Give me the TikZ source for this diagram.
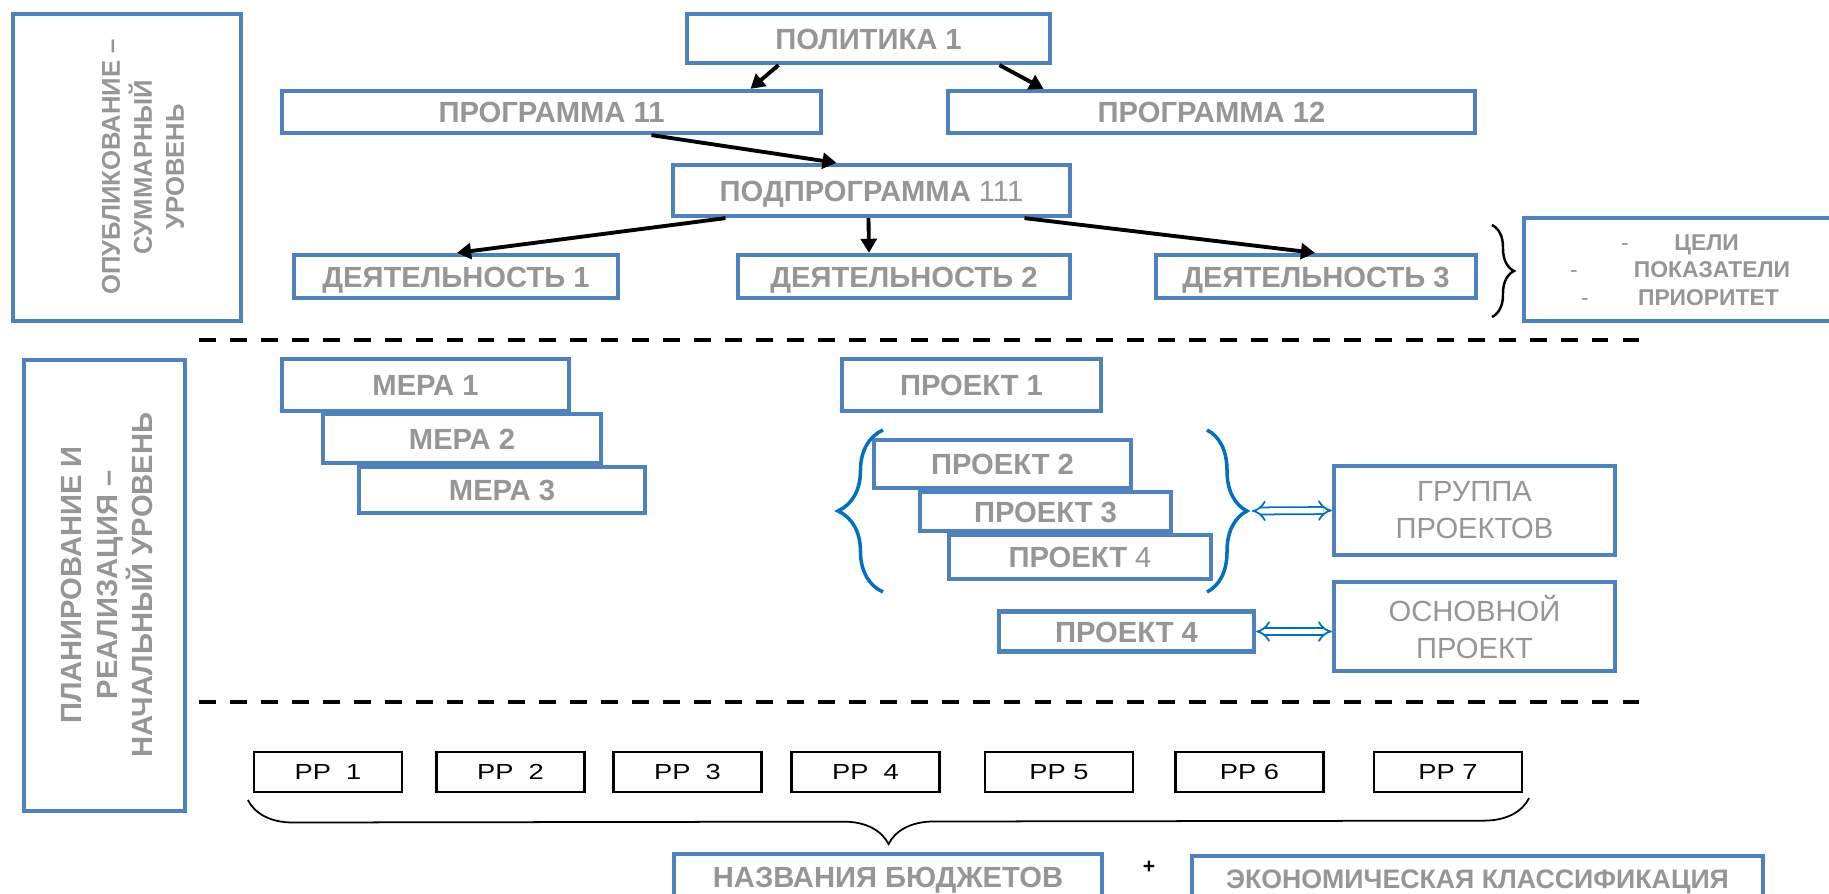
\documentclass[tikz,border=0pt]{standalone}
\usepackage{fontspec}
\setmainfont{Liberation Sans}
\newfontfamily\ppfont[FakeStretch=1.25]{Liberation Sans}
\usetikzlibrary{arrows.meta,calc,decorations.pathreplacing}
\definecolor{boxblue}{RGB}{79,129,189}
\definecolor{txtgray}{RGB}{150,150,150}
\definecolor{brblue}{RGB}{0,112,192}

\begin{document}
\begin{tikzpicture}[x=0.01cm,y=-0.01cm,
  frame/.style={draw=boxblue,line width=1.2pt,fill=white,inner sep=0pt,text=txtgray},
  box/.style={frame,text height=6pt,text depth=0pt,font=\fontsize{8.3}{10}\selectfont\bfseries},
  side/.style={text=txtgray,align=center,rotate=90},
  rrbox/.style={draw=black,line width=0.6pt,inner sep=0pt,minimum width=1.48cm,minimum height=0.4cm,
    font=\ppfont\fontsize{6.2}{7}\selectfont},
  tree/.style={line width=1.1pt,-{Triangle[length=4pt,width=4.5pt]}},
  sep/.style={line width=0.9pt,dash pattern=on 4.8pt off 4pt},
  dbl/.style={draw=brblue,double=white,double distance=1.5pt,line width=0.5pt,{Implies}-{Implies}},
  br/.style={decorate,line width=0.5pt}]

\useasboundingbox (0,0) rectangle (1829,894);

% level boxes on the left
\node[draw=boxblue,line width=1.2pt,minimum width=2.28cm,minimum height=3.07cm] (pub) at (127,167.5) {};
\node[side,font=\fontsize{7.3}{9.1}\selectfont\bfseries] (pubtxt) at (143,167) {ОПУБЛИКОВАНИЕ –\\СУММАРНЫЙ\\УРОВЕНЬ};
\node[draw=boxblue,line width=1.2pt,minimum width=1.61cm,minimum height=4.51cm] (plan) at (104.5,585.5) {};
\node[side,font=\fontsize{8.3}{10.2}\selectfont\bfseries] (plantxt) at (107,585) {ПЛАНИРОВАНИЕ И\\РЕАЛИЗАЦИЯ –\\НАЧАЛЬНЫЙ УРОВЕНЬ};

% policy tree
\node[box,minimum width=3.63cm,minimum height=0.49cm] (pol) at (868.5,38.5) {ПОЛИТИКА 1};
\node[box,minimum width=5.39cm,minimum height=0.42cm] (p11) at (551.5,112) {ПРОГРАММА 11};
\node[box,minimum width=5.27cm,minimum height=0.42cm] (p12) at (1211.5,112) {ПРОГРАММА 12};
\node[box,minimum width=3.97cm,minimum height=0.51cm] (sub) at (871.5,190.5) {ПОДПРОГРАММА \textmd{111}};
\node[box,minimum width=3.24cm,minimum height=0.43cm] (d1) at (456,276.5) {ДЕЯТЕЛЬНОСТЬ 1};
\node[box,minimum width=3.32cm,minimum height=0.43cm] (d2) at (904,276.5) {ДЕЯТЕЛЬНОСТЬ 2};
\node[box,minimum width=3.20cm,minimum height=0.43cm] (d3) at (1316,276.5) {ДЕЯТЕЛЬНОСТЬ 3};

% arrows
\draw[tree] ($(pol.south)+(-90,0)$) -- ($(p11.north)+(199,0)$);
\draw[tree] ($(pol.south)+(131,0)$) -- ($(p12.north)+(-168,0)$);
\draw[tree] ($(p11.south)+(100,0)$) -- ($(sub.north)+(-35,0)$);
\draw[tree] ($(sub.south)+(-146,0)$) -- ($(d1.north)+(1,0)$);
\draw[tree] ($(sub.south)+(-3,0)$) -- ($(d2.north)+(-35,0)$);
\draw[tree] ($(sub.south)+(153,0)$) -- ($(d3.north)+(-1,0)$);

% goals
\draw[br,line width=0.7pt,decoration={brace,amplitude=0.22cm}] (1492,225) -- (1492,317);
\node[frame,anchor=west,minimum width=4cm,minimum height=1.03cm] (goal) at (1522,269.5) {};
\node[text=txtgray,align=center,font=\fontsize{6.5}{7.8}\selectfont\bfseries] (goaltxt) at (1680,270)
  {\textmd{-}\hspace{13pt}ЦЕЛИ\\\textmd{-}\hspace{16pt}ПОКАЗАТЕЛИ\\\textmd{-}\hspace{14pt}ПРИОРИТЕТ};

% separators
\draw[sep] (199,340) -- (1651,340);
\draw[sep] (199,702) -- (1651,702);

% measures
\node[box,minimum width=2.87cm,minimum height=0.52cm] (m1) at (425.5,385) {МЕРА 1};
\node[box,minimum width=2.78cm,minimum height=0.49cm] (m2) at (462,438.5) {МЕРА 2};
\node[box,minimum width=2.86cm,minimum height=0.46cm] (m3) at (502,490) {МЕРА 3};

% projects
\node[box,minimum width=2.59cm,minimum height=0.52cm] (pr1) at (971.5,385) {ПРОЕКТ 1};
\node[box,minimum width=2.57cm,minimum height=0.48cm] (pr2) at (1002.5,464) {ПРОЕКТ 2};
\node[box,minimum width=2.51cm,minimum height=0.39cm] (pr3) at (1045.5,511.5) {ПРОЕКТ 3};
\node[box,minimum width=2.62cm,minimum height=0.44cm] (pr4) at (1080,557) {ПРОЕКТ \textmd{4}};
\node[box,minimum width=2.55cm,minimum height=0.40cm] (pr4b) at (1126.5,631.5) {ПРОЕКТ 4};

\draw[br,draw=brblue,line width=1pt,decoration={brace,amplitude=0.45cm}] (883,592) -- (883,430);
\draw[br,draw=brblue,line width=1pt,decoration={brace,amplitude=0.4cm}] (1207,430) -- (1207,592);
\coordinate (grtip) at (1252,511);

\node[frame,font=\fontsize{8.3}{10.5}\selectfont,align=center,minimum width=2.81cm,minimum height=0.89cm] (grp) at (1474.5,510.5) {ГРУППА\\ПРОЕКТОВ};
\node[frame,font=\fontsize{8.3}{10.5}\selectfont,align=center,minimum width=2.81cm,minimum height=0.89cm] (osn) at (1474.5,626.5) {ОСНОВНОЙ\\ПРОЕКТ};
\draw[dbl] (grtip) -- (grp.west);
\draw[dbl] (pr4b.east) -- (osn.west |- pr4b.east);

% budget lines
\node[rrbox] (rr1) at (328,772) {РР~~1};
\node[rrbox] (rr2) at (510.5,772) {РР~~2};
\node[rrbox] (rr3) at (687.5,772) {РР~~3};
\node[rrbox] (rr4) at (865.5,772) {РР~~4};
\node[rrbox] (rr5) at (1059,772) {РР~5};
\node[rrbox] (rr6) at (1249.5,772) {РР~6};
\node[rrbox] (rr7) at (1448,772) {РР~7};
\draw[br,decoration={brace,amplitude=0.45cm}] ($(rr7.south east)+(6,5)$) -- ($(rr1.south west)+(-5,7)$);

\node[box,minimum width=4.28cm,minimum height=0.46cm] (naz) at (888,877) {НАЗВАНИЯ БЮДЖЕТОВ};
\node[font=\fontsize{6}{7}\selectfont\bfseries] (plus) at (1149,867) {+};
\node[box,font=\fontsize{7.6}{9}\selectfont\bfseries,minimum width=5.71cm,minimum height=0.44cm] (eko) at (1477.5,878) {ЭКОНОМИЧЕСКАЯ КЛАССИФИКАЦИЯ};

\end{tikzpicture}
\end{document}
